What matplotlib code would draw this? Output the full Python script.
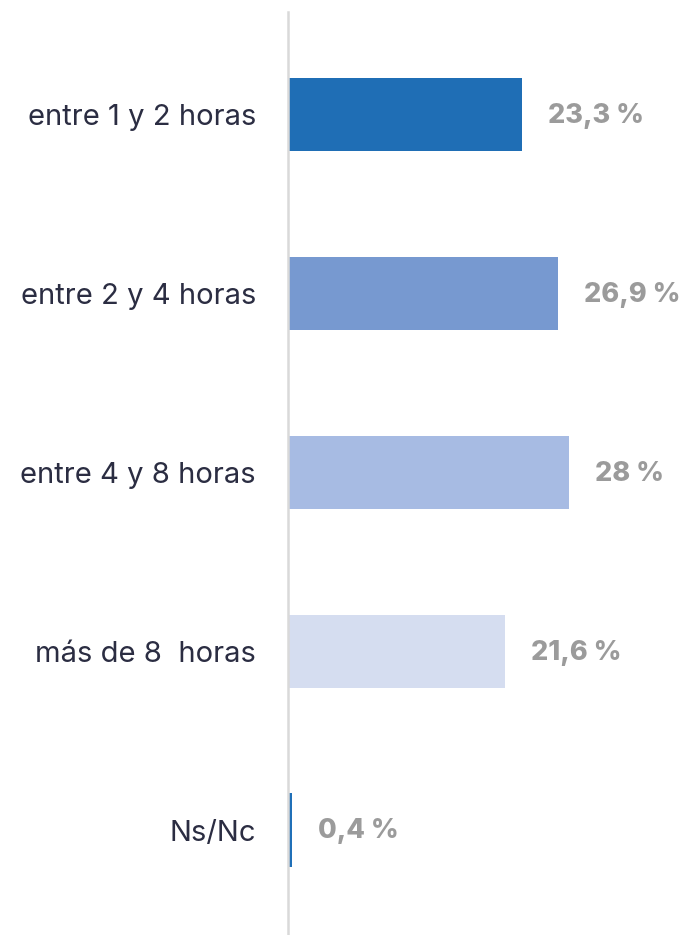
import matplotlib
matplotlib.use('Agg')
import matplotlib.pyplot as plt

categories = ['entre 1 y 2 horas', 'entre 2 y 4 horas', 'entre 4 y 8 horas',
              'más de 8  horas', 'Ns/Nc']
values = [23.3, 26.9, 28.0, 21.6, 0.4]
value_labels = ['23,3 %', '26,9 %', '28 %', '21,6 %', '0,4 %']
colors = ['#1f6eb5', '#7799d0', '#a7bbe3', '#d5ddf0', '#2070b8']

fig = plt.figure(figsize=(6.93, 9.35), dpi=100)
ax = fig.add_axes([288 / 693, 0.0, 1 - 288 / 693, 1 - 12 / 935])

ypos = list(range(len(categories)))
ax.barh(ypos, values, height=0.41, color=colors)

for y, v, lab in zip(ypos, values, value_labels):
    ax.annotate(lab, (v, y), xytext=(19, -1), textcoords='offset points',
                ha='left', va='center', fontsize=19.5, fontweight='heavy',
                color='#9b9b9b', family='Inter')

ax.set_xlim(0, 40.4)
ax.set_ylim(4.587, -0.575)
ax.set_yticks(ypos)
ax.set_yticklabels(categories, fontsize=21, color='#2b2d42', family='Inter')
ax.tick_params(axis='y', length=0, pad=23)
ax.set_xticks([])

for s in ['top', 'right', 'bottom']:
    ax.spines[s].set_visible(False)
ax.spines['left'].set_color('#d9d9d9')
ax.spines['left'].set_linewidth(1.8)

fig.savefig('out.png', dpi=100)
